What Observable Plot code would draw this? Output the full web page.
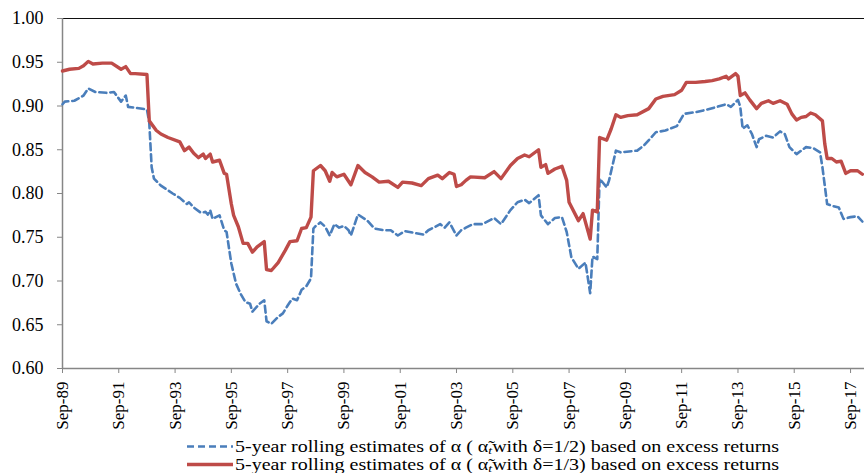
<!DOCTYPE html>
<html><head><meta charset="utf-8">
<script src="https://cdn.jsdelivr.net/npm/d3@7"></script>
<script src="https://cdn.jsdelivr.net/npm/@observablehq/plot@0.6"></script>
<style>
body{margin:0;background:#fff;}
#chart{width:864px;height:473px;overflow:hidden;position:relative;font-family:"Liberation Serif","Tinos","Times New Roman","DejaVu Serif",serif;}
#chart svg text{font-family:"Liberation Serif","Tinos","Times New Roman","DejaVu Serif",serif;}
.leg{position:absolute;left:187px;height:17px;white-space:nowrap;color:#000;}
.leg svg{position:absolute;left:0;top:0;}
.leg .txt{position:absolute;left:48px;top:0;font-size:16px;line-height:17px;display:inline-block;transform-origin:0 50%;}
.sub{font-style:italic;font-size:11px;position:relative;top:2px;}
</style></head><body><div id="chart"></div>
<script>
const redDates = ["1989-09","1989-12","1990-04","1990-06","1990-08","1990-10","1991-02","1991-06","1991-10","1991-12","1992-02","1992-04","1992-09","1992-10","1993-01","1993-03","1993-06","1993-11","1994-01","1994-03","1994-05","1994-07","1994-09","1994-10","1994-12","1995-01","1995-04","1995-06","1995-07","1995-09","1995-10","1995-12","1996-02","1996-04","1996-06","1996-08","1996-11","1996-12","1997-02","1997-05","1997-08","1997-10","1998-01","1998-03","1998-05","1998-07","1998-08","1998-11","1999-01","1999-03","1999-04","1999-06","1999-09","1999-12","2000-03","2000-06","2000-09","2000-12","2001-04","2001-08","2001-10","2002-02","2002-06","2002-09","2003-01","2003-03","2003-06","2003-08","2003-09","2003-11","2004-01","2004-03","2004-09","2005-01","2005-04","2005-08","2005-11","2006-02","2006-04","2006-08","2006-09","2006-11","2006-12","2007-03","2007-06","2007-08","2007-09","2008-01","2008-03","2008-06","2008-07","2008-09","2008-10","2009-01","2009-03","2009-05","2009-07","2009-10","2010-02","2010-07","2010-10","2011-01","2011-06","2011-09","2011-11","2012-03","2012-07","2012-10","2013-01","2013-04","2013-05","2013-08","2013-09","2013-10","2013-12","2014-02","2014-05","2014-07","2014-10","2014-12","2015-03","2015-06","2015-08","2015-10","2015-12","2016-02","2016-04","2016-06","2016-09","2016-10","2016-11","2017-01","2017-03","2017-05","2017-07","2017-09","2017-12","2018-02"];
const redValues = [0.940,0.942,0.943,0.946,0.951,0.948,0.949,0.949,0.942,0.945,0.937,0.937,0.936,0.883,0.872,0.868,0.864,0.859,0.849,0.853,0.846,0.841,0.845,0.840,0.845,0.836,0.838,0.823,0.822,0.788,0.775,0.762,0.743,0.743,0.733,0.739,0.745,0.713,0.712,0.721,0.735,0.745,0.746,0.760,0.761,0.773,0.826,0.832,0.826,0.814,0.824,0.819,0.822,0.810,0.832,0.824,0.819,0.813,0.814,0.807,0.813,0.812,0.809,0.817,0.821,0.817,0.824,0.822,0.808,0.810,0.815,0.819,0.818,0.825,0.817,0.832,0.840,0.844,0.842,0.850,0.830,0.833,0.823,0.828,0.831,0.815,0.790,0.769,0.777,0.748,0.781,0.779,0.864,0.861,0.874,0.890,0.887,0.889,0.890,0.897,0.908,0.911,0.913,0.918,0.927,0.927,0.928,0.929,0.931,0.934,0.931,0.937,0.934,0.912,0.915,0.907,0.897,0.903,0.906,0.903,0.906,0.902,0.891,0.884,0.887,0.888,0.892,0.890,0.883,0.857,0.840,0.840,0.836,0.837,0.823,0.826,0.826,0.822];

const blueDates = ["1989-09","1989-10","1990-02","1990-06","1990-08","1990-11","1991-04","1991-07","1991-10","1991-12","1992-01","1992-04","1992-09","1992-10","1992-11","1992-12","1993-03","1993-08","1993-11","1994-02","1994-03","1994-05","1994-08","1994-10","1994-11","1994-12","1995-01","1995-04","1995-06","1995-07","1995-09","1995-11","1996-01","1996-03","1996-05","1996-06","1996-09","1996-11","1996-12","1997-02","1997-05","1997-07","1997-09","1997-11","1998-01","1998-03","1998-05","1998-07","1998-08","1998-09","1998-11","1999-01","1999-03","1999-05","1999-07","1999-09","1999-11","1999-12","2000-03","2000-07","2000-10","2001-02","2001-05","2001-08","2001-11","2002-03","2002-07","2002-09","2002-12","2003-02","2003-04","2003-06","2003-09","2003-11","2004-01","2004-04","2004-08","2005-01","2005-04","2005-08","2005-11","2006-02","2006-04","2006-08","2006-09","2006-12","2007-03","2007-06","2007-08","2007-10","2008-01","2008-04","2008-06","2008-07","2008-09","2008-10","2009-01","2009-02","2009-05","2009-07","2010-02","2010-05","2010-10","2011-02","2011-07","2011-10","2012-03","2012-08","2012-12","2013-04","2013-06","2013-09","2013-10","2013-11","2014-01","2014-03","2014-05","2014-06","2014-09","2014-12","2015-03","2015-05","2015-07","2015-10","2015-12","2016-02","2016-05","2016-08","2016-09","2016-11","2017-01","2017-04","2017-06","2017-09","2017-12","2018-02"];
const blueValues = [0.902,0.905,0.906,0.912,0.920,0.916,0.915,0.916,0.905,0.912,0.899,0.898,0.896,0.881,0.830,0.817,0.809,0.800,0.795,0.788,0.790,0.784,0.778,0.779,0.776,0.781,0.771,0.775,0.758,0.756,0.720,0.697,0.685,0.676,0.674,0.665,0.674,0.678,0.654,0.651,0.659,0.663,0.672,0.680,0.678,0.690,0.694,0.703,0.760,0.763,0.767,0.762,0.752,0.765,0.761,0.763,0.758,0.752,0.776,0.769,0.760,0.758,0.758,0.752,0.757,0.755,0.753,0.758,0.762,0.765,0.761,0.767,0.752,0.758,0.761,0.765,0.765,0.772,0.765,0.781,0.790,0.793,0.789,0.798,0.775,0.765,0.772,0.773,0.756,0.727,0.714,0.721,0.686,0.728,0.725,0.817,0.807,0.815,0.849,0.847,0.849,0.855,0.870,0.872,0.877,0.891,0.893,0.896,0.899,0.902,0.899,0.907,0.899,0.874,0.878,0.868,0.853,0.862,0.866,0.864,0.871,0.868,0.853,0.845,0.849,0.853,0.852,0.847,0.830,0.788,0.786,0.784,0.771,0.773,0.774,0.768];

const xTickLabels = ["Sep-89","Sep-91","Sep-93","Sep-95","Sep-97","Sep-99","Sep-01","Sep-03","Sep-05","Sep-07","Sep-09","Sep-11","Sep-13","Sep-15","Sep-17"];
const yTicks = [0.60,0.65,0.70,0.75,0.80,0.85,0.90,0.95,1.00];
const xDomainLabels = ["1989-09","2018-03"];

const parseM = d3.utcParse("%Y-%m");
const parseTick = d3.utcParse("%b-%y");
const fmtTick = d3.utcFormat("%b-%y");
const xTicks = xTickLabels.map(parseTick);
const red = redDates.map((d, i) => ({date: parseM(d), value: redValues[i]}));
const blue = blueDates.map((d, i) => ({date: parseM(d), value: blueValues[i]}));
const xDomain = xDomainLabels.map(parseM);

const AXIS = "#868686";
const FONT = "'Liberation Serif','Tinos','Times New Roman','DejaVu Serif',serif";
const plot = Plot.plot({
  width: 864, height: 436,
  marginLeft: 62, marginRight: 0, marginTop: 18, marginBottom: 68,
  style: {fontFamily: FONT, fontSize: "18px", color: "#000", background: "#fff"},
  x: {type: "utc", domain: xDomain},
  y: {domain: [0.6, 1.0]},
  marks: [
    Plot.ruleY([1.0], {stroke: "#111", strokeWidth: 1}),
    Plot.axisY({ticks: yTicks, tickFormat: d => d.toFixed(2), tickSize: 5, tickPadding: 14, stroke: AXIS, fill: "#000", label: null, fontSize: 18}),
    Plot.axisX({ticks: xTicks, tickFormat: fmtTick, tickRotate: -90, tickSize: 5, tickPadding: 8, stroke: AXIS, fill: "#000", label: null, fontSize: 17}),
    Plot.ruleY([0.6], {stroke: AXIS, strokeWidth: 1.5}),
    Plot.ruleX([xDomain[0]], {stroke: AXIS, strokeWidth: 1.5}),
    Plot.line(blue, {x: "date", y: "value", stroke: "#4A7EBB", strokeWidth: 2.6, strokeDasharray: "7,4"}),
    Plot.line(red, {x: "date", y: "value", stroke: "#BE4B48", strokeWidth: 3.4, strokeLinejoin: "round"})
  ]
});
const root = document.getElementById("chart");
root.appendChild(plot);

const legendItems = [
  {delta: "1/2", stroke: "#4A7EBB", width: 2.6, dash: "7,4", top: 438},
  {delta: "1/3", stroke: "#BE4B48", width: 3.4, dash: null, top: 456}
];
for (const it of legendItems) {
  const div = document.createElement("div");
  div.className = "leg";
  div.style.top = it.top + "px";
  div.innerHTML = `<svg width="46" height="17"><line x1="0" x2="46" y1="8.5" y2="8.5" stroke="${it.stroke}" stroke-width="${it.width}" ${it.dash ? `stroke-dasharray="${it.dash}"` : ""}/></svg>` +
    `<span class="txt">5-year rolling estimates of α ( α̃<span class="sub">t</span>with δ=${it.delta}) based on excess returns</span>`;
  root.appendChild(div);
  const txt = div.querySelector(".txt");
  const w = txt.getBoundingClientRect().width;
  txt.style.transform = `scaleX(${(544 / w).toFixed(3)})`;
}
</script></body></html>
